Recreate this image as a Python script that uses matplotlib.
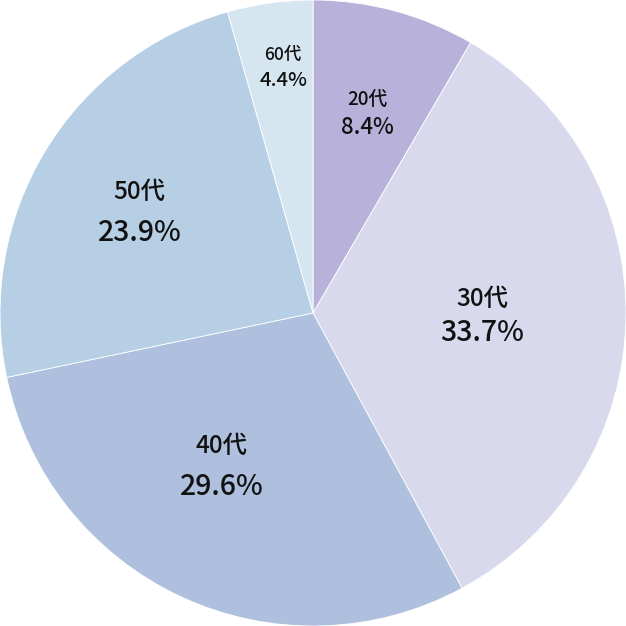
import numpy as np
import matplotlib
matplotlib.use('Agg')
import matplotlib.pyplot as plt

plt.rcParams['font.family'] = ['Noto Sans CJK JP', 'DejaVu Sans']

labels = ['20代', '30代', '40代', '50代', '60代']
shares = [8.4, 33.7, 29.6, 23.9, 4.4]
colors = ['#b8b1da', '#d9d9ee', '#aec0de', '#b6cfe4', '#d6e6f1']

# where each label sits (fraction of radius, angle nudge in degrees) and its font sizes
label_r = [0.66, 0.54, 0.57, 0.64, 0.79]
label_nudge = [0, 0, -6, 1, -1]
name_size = [13.5, 17.5, 17.5, 17.5, 12.5]
pct_size = [16, 20.5, 20.5, 20.5, 14.5]
gap_px = [14, 17, 20, 20, 13]

fig = plt.figure(figsize=(6.26, 6.26), dpi=100)
ax = fig.add_axes([0, 0, 1, 1])

wedges, _ = ax.pie(shares, colors=colors, startangle=90, counterclock=False,
                   radius=1.0, wedgeprops=dict(edgecolor='white', linewidth=0.6))

for w, name, pct, r, nudge, ns, ps, g in zip(wedges, labels, shares, label_r,
                                             label_nudge, name_size, pct_size, gap_px):
    ang = np.deg2rad((w.theta1 + w.theta2) / 2 + nudge)
    x, y = r * np.cos(ang), r * np.sin(ang)
    gap = g / 313
    ax.text(x, y + gap, name, ha='center', va='center', fontsize=ns,
            color='#111111', fontweight='medium')
    ax.text(x, y - gap, f'{pct}%', ha='center', va='center', fontsize=ps,
            color='#111111', fontweight='medium')

ax.set_xlim(-1.0, 1.0)
ax.set_ylim(-1.0, 1.0)
ax.set_aspect('equal')
ax.axis('off')

fig.savefig('out.png', dpi=100, facecolor='white')
